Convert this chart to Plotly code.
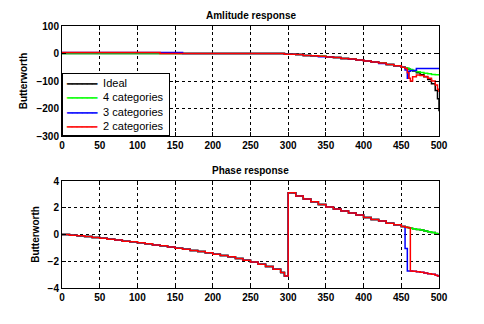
import plotly.graph_objects as go
from plotly.subplots import make_subplots

# Frequency index (samples) at which the stepped responses change value
freq = [0, 10, 20, 30, 40, 50, 60, 70, 80, 90,
        100, 110, 120, 130, 140, 150, 160, 170, 180, 190,
        200, 210, 220, 230, 240, 250, 260, 270, 280, 290,
        295, 300, 310, 320, 330, 340, 350, 360, 370, 380,
        390, 400, 410, 420, 430, 440, 450, 455, 458, 460,
        462, 465, 470, 475, 480, 485, 490, 495, 498, 500]

# Amplitude response (dB)
amp_ideal = [0, 0, 0, 0, 0, 0, 0, 0, 0, 0,
             0, 0, 0, 0, 0, 0, 0, 0, 0, 0,
             0, 0, 0, 0, 0, 0, 0, 0, 0, 0,
             -3, -3, -4, -7, -8, -10, -13, -15, -18, -20,
             -24, -27, -31, -35, -40, -45, -50, -53, -55, -57,
             -60, -64, -70, -77, -85, -95, -110, -135, -165, -210]
amp_cat4 = [0, 0, 0, 0, 0, 0, 0, 0, 0, 0,
            0, 0, 0, 0, 0, 0, 0, 0, 0, 0,
            0, 0, 0, 0, 0, 0, 0, 0, 0, 0,
            -3, -3, -4, -7, -8, -10, -13, -15, -18, -20,
            -24, -27, -31, -35, -40, -45, -50, -52, -54, -56,
            -58, -62, -66, -69, -72, -74, -76, -77, -77, -77]
amp_cat3 = [4, 4, 4, 4, 4, 4, 4, 4, 4, 4,
            4, 4, 4, 4, 4, 4, 0, 0, 0, 0,
            0, 0, 0, 0, 0, 0, 0, 0, 0, 0,
            -3, -3, -4, -7, -8, -12, -13, -15, -18, -21,
            -24, -27, -31, -36, -40, -45, -50, -60, -90, -65,
            -62, -62, -55, -55, -55, -55, -55, -55, -55, -55]
amp_cat2 = [4, 4, 4, 4, 4, 4, 4, 4, 4, 4,
            4, 4, 4, 0, 0, 0, 0, 0, 0, 0,
            0, 0, 0, 0, 0, 0, 0, 0, 0, 0,
            -3, -3, -4, -7, -8, -10, -13, -15, -18, -20,
            -24, -27, -31, -35, -40, -45, -50, -55, -70, -90,
            -100, -85, -78, -80, -84, -90, -100, -115, -130, -140]

# Phase response (rad)
ph_ideal = [0, -0.05, -0.1, -0.15, -0.22, -0.28, -0.35, -0.42, -0.5, -0.55,
            -0.62, -0.7, -0.78, -0.85, -0.93, -1.02, -1.1, -1.2, -1.28, -1.37,
            -1.47, -1.57, -1.67, -1.8, -1.92, -2.05, -2.22, -2.4, -2.6, -2.85,
            -3.1, 3.12, 2.88, 2.65, 2.45, 2.25, 2.05, 1.9, 1.75, 1.6,
            1.45, 1.28, 1.12, 1.0, 0.85, 0.72, 0.6, 0.55, 0.52, 0.5,
            0.47, 0.43, 0.38, 0.33, 0.27, 0.2, 0.15, 0.08, 0.03, 0.0]
ph_cat4 = list(ph_ideal)
ph_cat3 = [0, -0.05, -0.1, -0.15, -0.22, -0.28, -0.35, -0.42, -0.5, -0.55,
           -0.62, -0.7, -0.78, -0.85, -0.93, -1.02, -1.1, -1.2, -1.28, -1.37,
           -1.47, -1.57, -1.67, -1.8, -1.92, -2.05, -2.22, -2.4, -2.6, -2.85,
           -3.1, 3.12, 2.88, 2.65, 2.45, 2.25, 2.05, 1.9, 1.75, 1.6,
           1.45, 1.28, 1.12, 1.0, 0.85, 0.72, 0.6, -1.05, -2.72, -2.72,
           -2.72, -2.75, -2.78, -2.82, -2.88, -2.93, -2.98, -3.05, -3.1, -3.12]
ph_cat2 = [0, -0.05, -0.1, -0.15, -0.22, -0.28, -0.35, -0.42, -0.5, -0.55,
           -0.62, -0.7, -0.78, -0.85, -0.93, -1.02, -1.1, -1.2, -1.28, -1.37,
           -1.47, -1.57, -1.67, -1.8, -1.92, -2.05, -2.22, -2.4, -2.6, -2.85,
           -3.1, 3.12, 2.88, 2.65, 2.45, 2.25, 2.05, 1.9, 1.75, 1.6,
           1.45, 1.28, 1.12, 1.0, 0.85, 0.72, 0.6, 0.55, 0.53, 0.5,
           -2.72, -2.75, -2.78, -2.82, -2.88, -2.93, -2.98, -3.05, -3.1, -3.12]

series_names = ["Ideal", "4 categories", "3 categories", "2 categories"]
series_colors = ["#000000", "#00ff00", "#0000ff", "#ff0000"]
amp_series = [amp_ideal, amp_cat4, amp_cat3, amp_cat2]
ph_series = [ph_ideal, ph_cat4, ph_cat3, ph_cat2]

x_ticks = [0, 50, 100, 150, 200, 250, 300, 350, 400, 450, 500]

fig = make_subplots(rows=2, cols=1)

for name, color, amp, ph in zip(series_names, series_colors, amp_series, ph_series):
    fig.add_trace(go.Scatter(x=freq, y=amp, mode="lines", name=name,
                             line=dict(color=color, width=1.5, shape="hv"),
                             showlegend=False), row=1, col=1)
    fig.add_trace(go.Scatter(x=freq, y=ph, mode="lines", name=name,
                             line=dict(color=color, width=1.5, shape="hv"),
                             showlegend=False), row=2, col=1)

tick_font = dict(family="Liberation Sans", size=10, color="black", weight="bold")
axis_common = dict(showline=True, linecolor="black", linewidth=1, mirror="ticks",
                   ticks="inside", ticklen=4, tickcolor="black",
                   showgrid=True, gridcolor="black", gridwidth=1, griddash="3px,3px",
                   zeroline=False, tickfont=tick_font, automargin=False)

x_dom = [62 / 484, 439 / 484]
top_dom = [1 - 136 / 324, 1 - 26 / 324]
bot_dom = [1 - 288 / 324, 1 - 181 / 324]

label_font = dict(family="Liberation Sans", size=10, color="black", weight="bold")
fig.update_xaxes(**axis_common, range=[0, 500], tickvals=x_ticks, domain=x_dom)
fig.update_yaxes(**axis_common)
fig.update_yaxes(range=[-300, 100], tickvals=[-300, -200, -100, 0, 100], domain=top_dom,
                 title=dict(text="Butterworth", font=label_font, standoff=6), row=1, col=1)
fig.update_yaxes(range=[-4, 4], tickvals=[-4, -2, 0, 2, 4], domain=bot_dom,
                 title=dict(text="Butterworth", font=label_font, standoff=6), row=2, col=1)

x_mid = (x_dom[0] + x_dom[1]) / 2
fig.add_annotation(text="Amlitude response", x=x_mid, y=top_dom[1], xref="paper", yref="paper",
                   xanchor="center", yanchor="bottom", yshift=3, showarrow=False, font=label_font)
fig.add_annotation(text="Phase response", x=x_mid, y=bot_dom[1], xref="paper", yref="paper",
                   xanchor="center", yanchor="bottom", yshift=3, showarrow=False, font=label_font)

# Compact legend box in the lower-left corner of the amplitude panel
legend_rows = [
    f"<span style='color:{color};font-size:9px'>\u2501\u2501\u2501\u2501\u2501\u2501</span>  {name} "
    for name, color in zip(series_names, series_colors)
]
fig.add_annotation(text="<br>".join(legend_rows), x=x_dom[0], y=top_dom[0],
                   xref="paper", yref="paper", xanchor="left", yanchor="bottom",
                   align="left", showarrow=False, bgcolor="white",
                   bordercolor="black", borderwidth=1, borderpad=3,
                   font=dict(family="Liberation Sans", size=11, color="black"))

fig.update_layout(
    template="none",
    width=484, height=324,
    margin=dict(l=0, r=0, t=0, b=0),
    paper_bgcolor="white", plot_bgcolor="white",
    showlegend=False,
)

fig.write_html("out.html")
